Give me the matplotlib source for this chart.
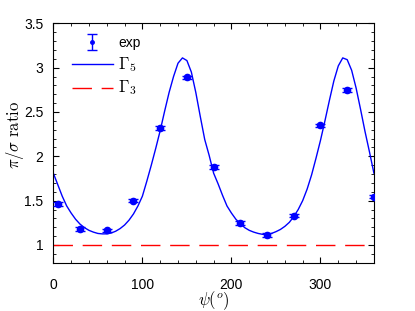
import matplotlib
matplotlib.use("Agg")
import matplotlib.pyplot as plt
import numpy as np
from matplotlib.ticker import MultipleLocator
from matplotlib.legend_handler import HandlerErrorbar

plt.rcParams['font.family'] = ['Liberation Sans', 'DejaVu Sans']
plt.rcParams['mathtext.fontset'] = 'cm'

# experimental data
exp_psi = [5, 30, 60, 90, 120, 150, 180, 210, 240, 270, 300, 330, 360]
exp_ratio = [1.46, 1.18, 1.165, 1.50, 2.32, 2.89, 1.88, 1.25, 1.11, 1.33, 2.35, 2.75, 1.545]
exp_err = [0.02] * 13

# Gamma_5 model curve (every 5 degrees)
curve_psi = list(range(0, 365, 5))
curve_g5 = [1.81, 1.68, 1.55, 1.44, 1.36, 1.29, 1.235, 1.195, 1.165, 1.145,
            1.13, 1.125, 1.125, 1.135, 1.155, 1.185, 1.225, 1.28, 1.35, 1.44,
            1.55, 1.72, 1.90, 2.09, 2.29, 2.51, 2.72, 2.90, 3.05, 3.11,
            3.08, 2.95, 2.72, 2.45, 2.19, 2.01, 1.81,
            1.69, 1.56, 1.44, 1.36, 1.29, 1.24, 1.195, 1.165, 1.145,
            1.13, 1.12, 1.12, 1.13, 1.15, 1.175, 1.21, 1.255, 1.32, 1.40,
            1.50, 1.63, 1.79, 1.98, 2.18, 2.40, 2.63, 2.85, 3.02, 3.11,
            3.09, 2.97, 2.77, 2.53, 2.28, 2.05, 1.81]

# Gamma_3 constant
g3_psi = [0, 360]
g3_val = [1.0, 1.0]

fig = plt.figure(figsize=(4.15, 3.11), dpi=100)
ax = fig.add_axes([0.1285, 0.1553, 0.7725, 0.7697])

ax.errorbar(exp_psi, exp_ratio, yerr=exp_err, fmt='o', color='#0000ff',
            ms=4.5, capsize=3.6, elinewidth=1, capthick=1, zorder=3)
# legend proxy for the experimental points (small dot, as in the legend)
eb_leg = ax.errorbar([np.nan], [np.nan], yerr=[np.nan], fmt='o', color='#0000ff',
                     ms=2.5, capsize=3.6, elinewidth=1, capthick=1, label='exp')
l5, = ax.plot(curve_psi, curve_g5, color='#0000ff', lw=1, label=r'$\Gamma_5$')
l3, = ax.plot(g3_psi, g3_val, color='#ff0000', lw=1, dashes=(14, 7), label=r'$\Gamma_3$')

ax.set_xlim(0, 360)
ax.set_ylim(0.8, 3.5)
ax.xaxis.set_major_locator(MultipleLocator(100))
ax.xaxis.set_minor_locator(MultipleLocator(20))
ax.yaxis.set_minor_locator(MultipleLocator(0.1))
ax.set_yticks([1, 1.5, 2, 2.5, 3, 3.5])
ax.set_yticklabels(['1', '1.5', '2', '2.5', '3', '3.5'])
ax.tick_params(which='both', direction='in', top=True, right=True, labelsize=10)
ax.tick_params(axis='x', pad=11)
ax.tick_params(axis='y', pad=7)
ax.tick_params(which='major', length=4)
ax.tick_params(which='minor', length=2.5)
for s in ax.spines.values():
    s.set_linewidth(0.8)

ax.set_xlabel(r'$\psi(^o)$', fontsize=12, labelpad=-2)
ax.set_ylabel(r'$\pi/\sigma\ \mathrm{ratio}$', fontsize=12)
ax.yaxis.set_label_coords(-0.085, 0.535)

leg = ax.legend(handles=[eb_leg, l5, l3], loc='upper left', frameon=False, fontsize=10,
                handlelength=2.9, handletextpad=0.4, labelspacing=0.35,
                bbox_to_anchor=(0.02, 1.0),
                handler_map={type(eb_leg): HandlerErrorbar(yerr_size=0.6)})
for t in leg.get_texts()[1:]:
    t.set_fontsize(12)

fig.savefig('out.png', dpi=100)
